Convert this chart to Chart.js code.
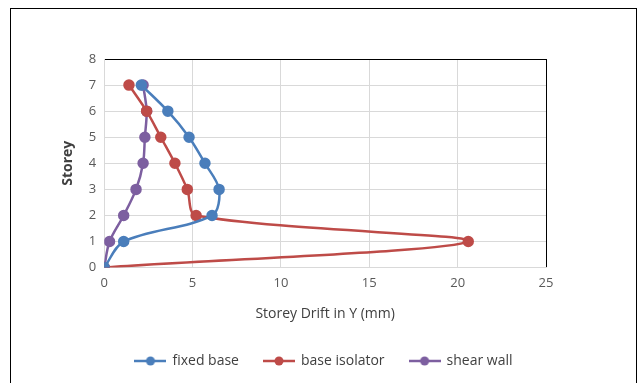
<!DOCTYPE html>
<html>
<head>
<meta charset="utf-8">
<script src="https://cdn.jsdelivr.net/npm/chart.js@4/dist/chart.umd.min.js"></script>
<style>
  html, body { margin: 0; padding: 0; background: #fff; }
  #wrap { position: relative; width: 639px; height: 383px; overflow: hidden; }
  #frame { position: absolute; left: 10px; top: 8px; width: 625px; height: 400px; border: 1.5px solid #000; }
  canvas { position: absolute; left: 0; top: 0; }
</style>
</head>
<body>
<div id="wrap">
  <div id="frame"></div>
  <canvas id="myChart" width="639" height="383"></canvas>
</div>
<script>
const storeys = [0, 1, 2, 3, 4, 5, 6, 7];
const fixedBase = [0, 1.1, 6.1, 6.5, 5.7, 4.8, 3.6, 2.1];
const baseIsolator = [0, 20.6, 5.2, 4.7, 4.0, 3.2, 2.4, 1.4];
const shearWall = [0, 0.3, 1.1, 1.8, 2.2, 2.3, 2.4, 2.2];
const seriesNames = ['fixed base', 'base isolator', 'shear wall'];
const colors = ['#4a7ebb', '#be4b48', '#7d5fa0'];

const toPoints = (xs) => xs.map((x, i) => ({ x: x, y: storeys[i] }));

// little line+marker swatch for the legend
const makeSwatch = (color) => {
  const c = document.createElement('canvas');
  c.width = 32; c.height = 12;
  const g = c.getContext('2d');
  g.strokeStyle = color;
  g.lineWidth = 2.5;
  g.beginPath(); g.moveTo(0, 6); g.lineTo(32, 6); g.stroke();
  g.fillStyle = color;
  g.beginPath(); g.arc(16, 6, 4.5, 0, Math.PI * 2); g.fill();
  return c;
};

const dataSeries = [fixedBase, baseIsolator, shearWall];
const datasets = dataSeries.map((xs, i) => ({
  label: seriesNames[i],
  data: toPoints(xs),
  showLine: true,
  tension: 0.32,
  borderColor: colors[i],
  backgroundColor: colors[i],
  borderWidth: 2.5,
  pointRadius: 4.5,
  pointHoverRadius: 4.5,
}));

const font = "'Open Sans', sans-serif";

// the legend in the original is centred under the whole frame, not between the paddings
const legendShift = {
  id: 'legendShift',
  afterLayout(chart) {
    chart.legend.left += 23;
    chart.legend.right += 23;
  },
};

new Chart(document.getElementById('myChart').getContext('2d'), {
  type: 'scatter',
  data: { datasets: datasets },
  plugins: [legendShift],
  options: {
    responsive: false,
    animation: false,
    layout: { padding: { left: 56, right: 93, top: 59, bottom: 5 } },
    plugins: {
      tooltip: { enabled: false },
      legend: {
        position: 'bottom',
        labels: {
          usePointStyle: true,
          pointStyleWidth: 30,
          boxHeight: 12,
          color: '#404040',
          font: { family: font, size: 14 },
          padding: 25,
          generateLabels: (chart) => chart.data.datasets.map((ds, i) => ({
            text: ds.label,
            pointStyle: makeSwatch(colors[i]),
            fontColor: '#404040',
            datasetIndex: i,
            hidden: false,
            lineWidth: 0,
          })),
        },
      },
    },
    scales: {
      x: {
        type: 'linear',
        min: 0,
        max: 25,
        ticks: { stepSize: 5, color: '#595959', font: { family: font, size: 13 }, padding: 8 },
        grid: {
          color: (ctx) => (ctx.tick && ctx.tick.value === 25 ? '#000' : '#d9d9d9'),
          drawTicks: false,
          lineWidth: 1,
        },
        border: { color: '#d9d9d9' },
        title: { display: true, text: 'Storey Drift in Y (mm)', color: '#404040', font: { family: font, size: 14 }, padding: { top: 6, bottom: 7 } },
      },
      y: {
        type: 'linear',
        min: 0,
        max: 8,
        ticks: { stepSize: 1, color: '#595959', font: { family: font, size: 13 }, padding: 8 },
        grid: {
          color: (ctx) => (ctx.tick && ctx.tick.value === 8 ? '#000' : '#d9d9d9'),
          drawTicks: false,
          lineWidth: 1,
        },
        border: { color: '#d9d9d9' },
        title: { display: true, text: 'Storey', color: '#404040', font: { family: font, size: 14, weight: 'bold' }, padding: { bottom: 4 } },
      },
    },
  },
});
</script>
</body>
</html>
